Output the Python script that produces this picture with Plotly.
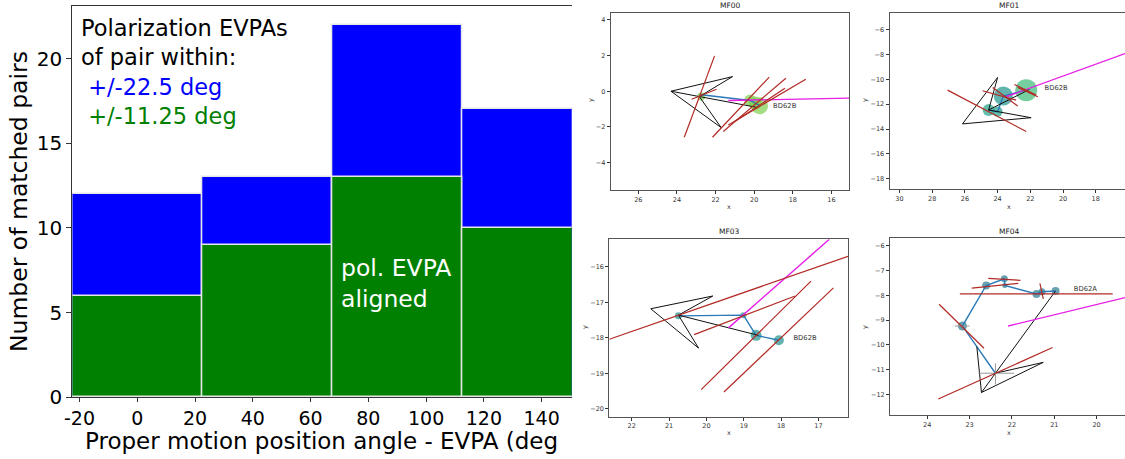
import plotly.graph_objects as go

W, H = 1125, 459

# ---------------- Histogram data ----------------
bin_centers = [0, 45, 90, 135]
bin_width = 45
counts_within_22_5 = [12, 13, 22, 17]
counts_within_11_25 = [6, 9, 13, 10]
hist_xticks = [-20, 0, 20, 40, 60, 80, 100, 120, 140]
hist_yticks = [0, 5, 10, 15, 20]

# ---------------- MF00 ----------------
MF00_black = [[(24.31, 0.0), (21.12, 0.82), (22.84, -0.30), (21.71, -2.04), (24.31, 0.0), (19.88, -0.90)]]
MF00_blue = [[(22.74, -0.20), (20.21, -0.52), (19.72, -0.80)]]
MF00_dots_x = [22.74, 20.21, 19.95, 19.72]
MF00_dots_y = [-0.30, -0.52, -0.66, -0.82]
MF00_dots_size = [8, 12, 13, 17]
MF00_magenta = [[(21.34, -0.52), (15.09, -0.39)]]
MF00_red = [
    [(23.62, -2.58), (22.05, 1.98)],
    [(23.24, -0.45), (21.95, 0.11)],
    [(22.16, -2.58), (19.22, 0.79)],
    [(21.60, -2.26), (18.36, 0.73)],
    [(21.34, -1.89), (17.33, 0.67)],
    [(21.00, -1.70), (18.41, 0.17)],
]
MF00_label = (19.02, -0.82, "BD62B")
MF00_xticks = [26, 24, 22, 20, 18, 16]
MF00_yticks = [-4, -2, 0, 2, 4]

# ---------------- MF01 ----------------
MF01_black = [[(26.15, -13.59), (24.00, -9.85), (24.55, -12.47), (21.95, -13.09), (26.15, -13.59)],
              [(24.55, -12.47), (22.05, -10.81)]]
MF01_blue = [[(24.55, -12.47), (24.00, -12.60), (23.65, -11.35), (22.25, -10.87)]]
MF01_dots_x = [24.55, 24.00, 23.65, 22.25]
MF01_dots_y = [-12.47, -12.60, -11.35, -10.87]
MF01_dots_size = [12, 10, 19, 22]
MF01_dots_color = ["#20a386", "#1f9e89", "#1f968b", "#3bbb75"]
MF01_magenta = [[(23.48, -11.40), (16.21, -7.93)]]
MF01_red = [
    [(27.06, -10.87), (22.25, -14.20)],
    [(24.92, -10.92), (22.87, -11.67)],
    [(24.30, -10.65), (22.77, -12.15)],
    [(22.97, -10.41), (21.64, -11.27)],
    [(22.77, -10.65), (21.54, -11.40)],
]
MF01_label = (21.13, -10.73, "BD62B")
MF01_xticks = [30, 28, 26, 24, 22, 20, 18, 16]
MF01_yticks = [-18, -16, -14, -12, -10, -8, -6]

# ---------------- MF03 ----------------
MF03_black = [[(21.49, -17.18), (19.83, -16.82), (20.75, -17.36), (20.21, -18.29), (21.49, -17.18)],
              [(20.75, -17.36), (18.61, -17.93)]]
MF03_blue = [[(20.75, -17.38), (19.01, -17.36), (18.67, -17.93), (18.06, -18.07)]]
MF03_dots_x = [20.75, 19.01, 18.67, 18.06]
MF03_dots_y = [-17.38, -17.36, -17.93, -18.07]
MF03_dots_size = [7, 6, 11, 10]
MF03_magenta = [[(19.41, -17.72), (16.71, -15.22)]]
MF03_red = [
    [(22.60, -18.04), (16.21, -15.70)],
    [(20.33, -17.91), (17.625, -16.82)],
    [(20.14, -19.46), (17.20, -16.40)],
    [(19.53, -19.53), (16.60, -16.59)],
]
MF03_label = (17.67, -18.0, "BD62B")
MF03_xticks = [22, 21, 20, 19, 18, 17]
MF03_yticks = [-20, -19, -18, -17, -16]

# ---------------- MF04 ----------------
MF04_black = [[(22.39, -11.15), (20.97, -7.82)],
              [(22.83, -10.07), (22.72, -11.93), (21.26, -10.71), (22.39, -11.15), (22.72, -11.93)]]
MF04_blue = [[(22.39, -11.15), (23.17, -9.24), (22.61, -7.60), (22.18, -7.33), (22.17, -7.60),
              (21.42, -7.94), (21.29, -7.85), (20.97, -7.82)]]
MF04_gray = [[(22.79, -11.15), (21.95, -11.15)], [(22.39, -10.75), (22.39, -11.60)],
             [(23.35, -9.24), (23.00, -9.24)]]
MF04_dots_x = [23.17, 22.61, 22.18, 22.17, 21.42, 21.29, 20.97]
MF04_dots_y = [-9.24, -7.60, -7.33, -7.60, -7.94, -7.85, -7.82]
MF04_dots_size = [9, 8, 7, 5, 8, 7, 8]
MF04_magenta = [[(22.09, -9.24), (19.33, -8.09)]]
MF04_red = [
    [(23.23, -7.94), (19.62, -7.94)],
    [(23.72, -8.36), (22.66, -10.14)],
    [(23.74, -12.19), (21.04, -10.11)],
    [(22.56, -7.31), (21.80, -7.39)],
    [(22.95, -7.71), (21.85, -7.51)],
    [(21.34, -7.51), (21.26, -8.14)],
]
MF04_label = (20.54, -7.75, "BD62A")
MF04_xticks = [24, 23, 22, 21, 20]
MF04_yticks = [-12, -11, -10, -9, -8, -7, -6]

# ---------------- Build figure ----------------
fig = go.Figure()

fig.add_trace(go.Bar(x=bin_centers, y=counts_within_22_5, width=bin_width,
                     marker=dict(color="#0000ff", line=dict(color="#e6e6e6", width=1.5)),
                     xaxis="x", yaxis="y", showlegend=False, hoverinfo="skip"))
fig.add_trace(go.Bar(x=bin_centers, y=counts_within_11_25, width=bin_width,
                     marker=dict(color="#008000", line=dict(color="#e6e6e6", width=1.5)),
                     xaxis="x", yaxis="y", showlegend=False, hoverinfo="skip"))


def seg_xy(paths):
    xs, ys = [], []
    for p in paths:
        for (a, b) in p:
            xs.append(a)
            ys.append(b)
        xs.append(None)
        ys.append(None)
    return xs, ys


def add_lines(paths, color, width, ax):
    xs, ys = seg_xy(paths)
    fig.add_trace(go.Scatter(x=xs, y=ys, mode="lines", line=dict(color=color, width=width),
                             xaxis="x" + ax, yaxis="y" + ax, showlegend=False, hoverinfo="skip"))


RED = "#b22a25"
MAG = "#e61ee6"
BLUE = "#2a7ab8"

panels = [
    ("2", MF00_black, MF00_blue, MF00_dots_x, MF00_dots_y, MF00_dots_size, "#7ed04e", MF00_magenta, MF00_red, MF00_label, []),
    ("3", MF01_black, MF01_blue, MF01_dots_x, MF01_dots_y, MF01_dots_size, MF01_dots_color, MF01_magenta, MF01_red, MF01_label, []),
    ("4", MF03_black, MF03_blue, MF03_dots_x, MF03_dots_y, MF03_dots_size, "#21918c", MF03_magenta, MF03_red, MF03_label, []),
    ("5", MF04_black, MF04_blue, MF04_dots_x, MF04_dots_y, MF04_dots_size, "#2a788e", MF04_magenta, MF04_red, MF04_label, MF04_gray),
]

for ax, blk, blu, dx, dy, ds, dc, mag, red, lab, gray in panels:
    fig.add_trace(go.Scatter(x=dx, y=dy, mode="markers",
                             marker=dict(size=ds, color=dc, line=dict(width=0)),
                             xaxis="x" + ax, yaxis="y" + ax, showlegend=False, hoverinfo="skip"))
    add_lines(blu, BLUE, 1.4, ax)
    add_lines(blk, "#111111", 1.0, ax)
    if gray:
        add_lines(gray, "#999999", 1.0, ax)
    add_lines(mag, MAG, 1.4, ax)
    add_lines(red, RED, 1.2, ax)
    fig.add_trace(go.Scatter(x=[lab[0]], y=[lab[1]], mode="text", text=[lab[2]],
                             textposition="middle right", textfont=dict(size=6.8, color="#333333"),
                             xaxis="x" + ax, yaxis="y" + ax, showlegend=False, hoverinfo="skip"))


def px(x):
    return x / W


def py(y):
    return 1 - y / H


AXC = "#333333"
TICKF = 19
layout = dict(
    width=W, height=H, margin=dict(l=0, r=0, t=0, b=0, pad=0, autoexpand=False),
    paper_bgcolor="white", plot_bgcolor="white", barmode="overlay", bargap=0,
    font=dict(family="DejaVu Sans", color="black"),
)

# histogram axes
layout["xaxis"] = dict(domain=[px(72.3), px(571.7)], range=[-22.5, 150.4],
                       tickvals=hist_xticks, ticktext=[str(v) for v in hist_xticks],
                       ticks="outside", ticklen=4, tickwidth=1, tickcolor=AXC,
                       showline=True, linecolor=AXC, linewidth=1.2, mirror=True,
                       showgrid=False, zeroline=False, tickfont=dict(size=TICKF, color="black"),
                       anchor="y", automargin=False)
layout["yaxis"] = dict(domain=[py(397.3), py(6)], range=[0, 23.1],
                       tickvals=hist_yticks, ticks="outside", ticklen=5, tickwidth=1, tickcolor=AXC,
                       showline=True, linecolor=AXC, linewidth=1.2, mirror=False,
                       showgrid=False, zeroline=False, tickfont=dict(size=TICKF + 1, color="black"),
                       anchor="x", automargin=False)

small = {
    "2": dict(xd=(610.7, 849.0), yd=(190.0, 13.3), xr=[27.43, 15.09], yr=[-5.54, 4.37],
              xt=MF00_xticks, yt=MF00_yticks, mirror_y=True),
    "3": dict(xd=(889.5, 1125.0), yd=(189.0, 13.0), xr=[30.61, 16.21], yr=[-18.83, -4.66],
              xt=MF01_xticks, yt=MF01_yticks, mirror_y=False),
    "4": dict(xd=(609.3, 848.0), yd=(416.5, 239.3), xr=[22.6, 16.21], yr=[-20.22, -15.22],
              xt=MF03_xticks, yt=MF03_yticks, mirror_y=True),
    "5": dict(xd=(890.0, 1125.0), yd=(415.0, 238.3), xr=[24.88, 19.33], yr=[-12.84, -5.69],
              xt=MF04_xticks, yt=MF04_yticks, mirror_y=False),
}
for ax, s in small.items():
    layout["xaxis" + ax] = dict(domain=[px(s["xd"][0]), px(s["xd"][1])], range=s["xr"],
                                tickvals=s["xt"], ticks="outside", ticklen=3, tickwidth=1, tickcolor=AXC,
                                showline=True, linecolor="#555555", linewidth=1, mirror=True,
                                showgrid=False, zeroline=False, tickfont=dict(size=6.5, color="#333333"),
                                anchor="y" + ax, automargin=False)
    layout["yaxis" + ax] = dict(domain=[py(s["yd"][0]), py(s["yd"][1])], range=s["yr"],
                                tickvals=s["yt"], ticks="outside", ticklen=3, tickwidth=1, tickcolor=AXC,
                                showline=True, linecolor="#555555", linewidth=1, mirror=s["mirror_y"],
                                showgrid=False, zeroline=False, tickfont=dict(size=6.5, color="#333333"),
                                anchor="x" + ax, automargin=False)

F = 23.5
ann = []


def A(text, x, y, size, color="black", xanchor="left", angle=0):
    ann.append(dict(text=text, x=px(x), y=py(y), xref="paper", yref="paper",
                    xanchor=xanchor, yanchor="middle", showarrow=False, textangle=angle,
                    align="left",
                    font=dict(size=size, color=color, family="DejaVu Sans"), borderpad=0))


FB = 22.5
A("Polarization EVPAs<br>of pair within:<br>"
  "<span style='color:#0000ff'>\u00a0+/-22.5 deg</span><br>"
  "<span style='color:#008000'>\u00a0+/-11.25 deg</span>",
  80, 78.5 - 0.3 * FB, FB)
A("pol. EVPA<br>aligned", 340, 290.5 - 0.3 * F, F, color="white")
A("Proper motion position angle - EVPA (deg", 84, 448 - 0.3 * 23, 23)
A("Number of matched pairs", 18.5, 201.5, F, xanchor="center", angle=-90)

# small panel titles and axis labels
for t, x, y in [("MF00", 730, 6), ("MF01", 1009, 5), ("MF03", 729, 231), ("MF04", 1009, 231)]:
    A(t, x, y, 7.5, color="#222222", xanchor="center")
for x, y in [(729, 207), (1009, 207), (729, 433), (1009, 433)]:
    A("x", x, y, 6.5, color="#333333", xanchor="center")
for x, y in [(591, 100), (865, 100), (585, 327), (865, 327)]:
    A("y", x, y, 6.5, color="#333333", xanchor="center", angle=-90)

layout["annotations"] = ann
fig.update_layout(**layout)
fig.write_html("out.html", config={"displayModeBar": False},
               post_script="document.body.style.margin='0';document.body.style.overflow='hidden';")
